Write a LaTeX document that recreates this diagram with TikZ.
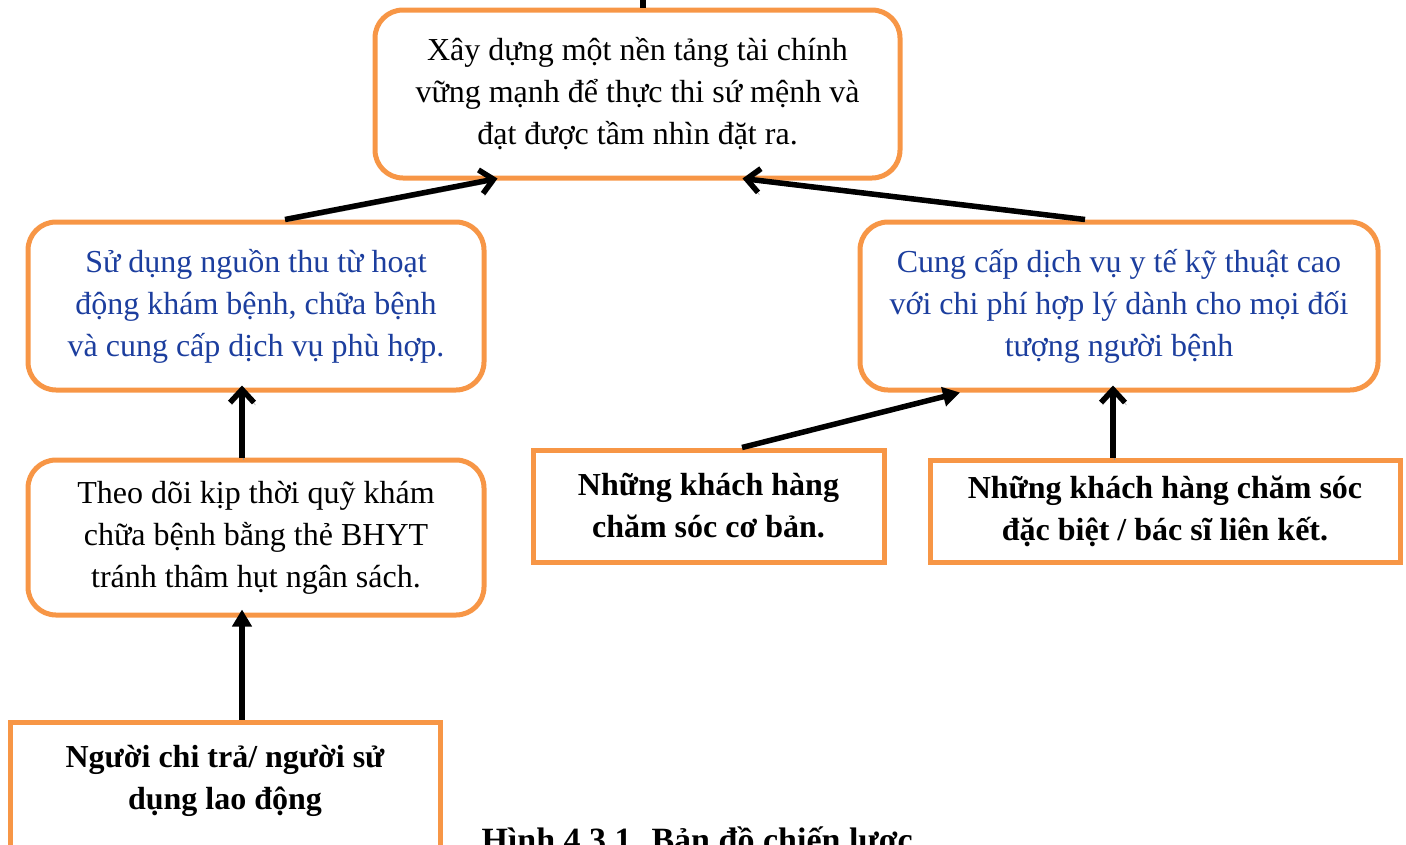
\documentclass[tikz,border=0pt]{standalone}
\usepackage{fontspec}
\setmainfont{Liberation Serif}
\usetikzlibrary{arrows.meta,calc}
\definecolor{boxorange}{RGB}{247,150,70}
\definecolor{textblue}{RGB}{28,62,158}
\definecolor{shadowgray}{RGB}{150,150,150}
\tikzset{
  rbox/.style={draw=boxorange, line width=5pt, rounded corners=28pt, align=center,
    font=\fontsize{32}{42}\selectfont, inner sep=0pt},
  sbox/.style={draw=boxorange, line width=5pt, align=center,
    font=\fontsize{32}{42}\selectfont\bfseries, inner sep=0pt},
  conn/.style={draw=black, line width=5.5pt},
  openhead/.style={-{Straight Barb[length=13pt,width=24pt,line width=5.5pt]}},
  fillhead/.style={-{Triangle[length=17pt,width=19pt]}},
  shadowed/.style={preaction={draw=shadowgray, transform canvas={shift={(1.5pt,-2.5pt)}}}},
}
\begin{document}
\begin{tikzpicture}[x=1pt,y=-1pt]
\useasboundingbox (0,0) rectangle (1406,844);
\clip (0,0) rectangle (1406,844);

\node[rbox, minimum width=525pt, minimum height=168pt] (top) at (637.5,94)
  {Xây dựng một nền tảng tài chính\\ vững mạnh để thực thi sứ mệnh và\\ đạt được tầm nhìn đặt ra.};
\node[rbox, text=textblue, minimum width=456pt, minimum height=168pt] (lm) at (256,306)
  {Sử dụng nguồn thu từ hoạt\\ động khám bệnh, chữa bệnh\\ và cung cấp dịch vụ phù hợp.};
\node[rbox, text=textblue, minimum width=518pt, minimum height=168pt] (rm) at (1119,306)
  {Cung cấp dịch vụ y tế kỹ thuật cao\\ với chi phí hợp lý dành cho mọi đối\\ tượng người bệnh};
\node[rbox, minimum width=456pt, minimum height=155pt] (ll) at (256,537.5)
  {Theo dõi kịp thời quỹ khám\\ chữa bệnh bằng thẻ BHYT\\ tránh thâm hụt ngân sách.};
\node[sbox, minimum width=430pt, minimum height=152pt] (bl) at (225,798)
  {Người chi trả/ người sử\\ dụng lao động\\ \mbox{}};
\node[sbox, minimum width=351pt, minimum height=112pt] (mid) at (708.5,506)
  {Những khách hàng\\ chăm sóc cơ bản.};
\node[sbox, minimum width=470pt, minimum height=102pt] (rr) at (1165,511)
  {Những khách hàng chăm sóc\\ đặc biệt / bác sĩ liên kết.};

\node[anchor=base west, font=\fontsize{34}{42}\selectfont\bfseries] (cap) at (478,851)
  {Hình 4.3.1. Bản đồ chiến lược};

\coordinate (above) at (643,-10);
\draw[conn] (above) -- (above |- top.north);

\draw[conn, openhead, shadowed] ($(lm.north)+(29,0)$) -- ($(top.south)+(-140,-2)$);
\draw[conn, openhead, shadowed] ($(rm.north)+(-34,0)$) -- ($(top.south)+(105,-2)$);
\draw[conn, openhead, shadowed] ($(ll.north)+(-14,0)$) -- ($(lm.south)+(-14,-7)$);
\draw[conn, openhead, shadowed] ($(rr.north)+(-52,0)$) -- ($(rm.south)+(-6,-7)$);
\draw[conn, fillhead] ($(bl.north)+(17,0)$) -- ($(ll.south)+(-14,-8)$);
\draw[conn, fillhead] ($(mid.north)+(33.5,0)$) -- ($(rm.south)+(-159,0)$);
\end{tikzpicture}
\end{document}
